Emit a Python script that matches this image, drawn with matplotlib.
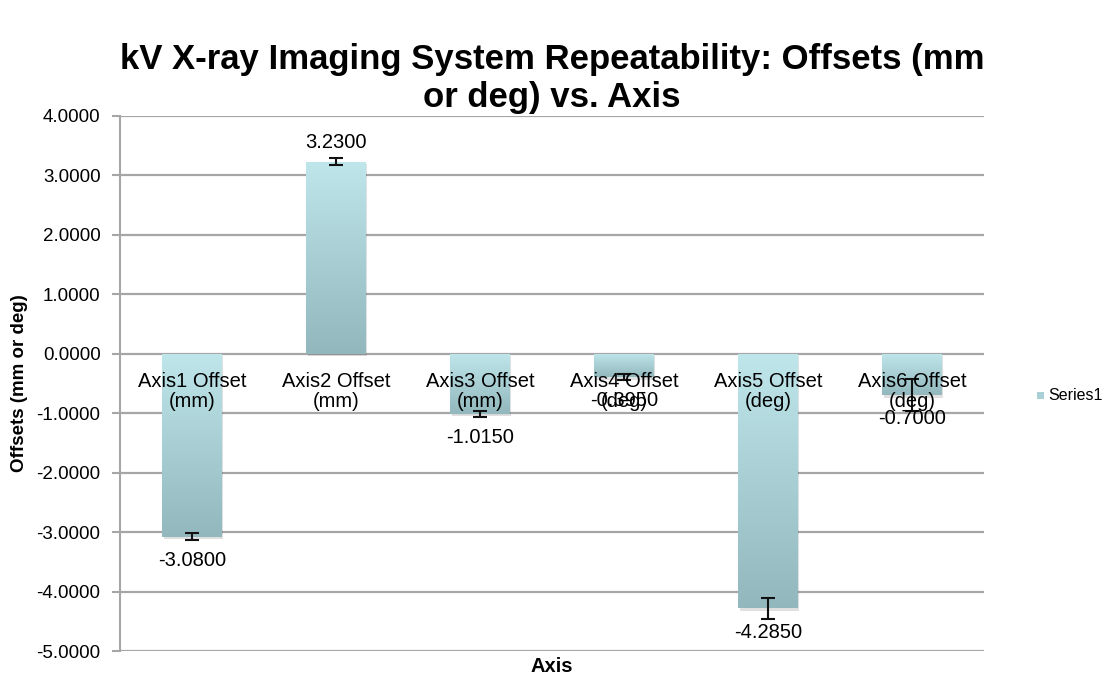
import numpy as np
import matplotlib
matplotlib.use("Agg")
from matplotlib import pyplot as plt
from matplotlib.colors import LinearSegmentedColormap

plt.rcParams['font.family'] = ['Liberation Sans', 'DejaVu Sans']

# offsets per axis with the repeatability spread
axis_names = ["Axis1 Offset\n(mm)", "Axis2 Offset\n(mm)", "Axis3 Offset\n(mm)",
              "Axis4 Offset\n(deg)", "Axis5 Offset\n(deg)", "Axis6 Offset\n(deg)"]
offsets = [-3.080, 3.230, -1.015, -0.395, -4.285, -0.700]
spread = [0.06, 0.06, 0.05, 0.05, 0.18, 0.27]
yticks = np.arange(-5, 5, 1.0)

fig = plt.figure(figsize=(11.04, 6.77), dpi=100)
ax = fig.add_axes([0.1087, 0.0384, 0.7826, 0.7903])

x = np.arange(len(offsets))
width = 0.41
bars = ax.bar(x, offsets, width=width, color="none", edgecolor="none", zorder=3)

# vertical light-to-dark fill inside each bar, with a soft drop shadow
shade = LinearSegmentedColormap.from_list("shade", ["#bfe6eb", "#92b8bd"])
grad = np.linspace(0, 1, 256).reshape(-1, 1)
for b in bars:
    x0 = b.get_x()
    y_lo = min(0, b.get_height())
    y_hi = max(0, b.get_height())
    shadow = plt.Rectangle((x0 + 0.012, y_lo - 0.04), b.get_width(), y_hi - y_lo,
                           facecolor="#000000", alpha=0.12, edgecolor="none", zorder=2)
    ax.add_patch(shadow)
    im = ax.imshow(grad, cmap=shade, aspect="auto", zorder=3,
                   extent=(x0, x0 + b.get_width(), y_lo, y_hi), origin="upper")
    im.set_clip_path(b)

ax.errorbar(x, offsets, yerr=spread, fmt="none", ecolor="#111111",
            elinewidth=1.5, capsize=5, capthick=1.5, zorder=5)

for i, v in enumerate(offsets):
    if v >= 0:
        ax.annotate("%.4f" % v, (i, v), xytext=(0, 14), textcoords="offset points",
                    ha="center", va="center", fontsize=14.5, zorder=6)
    else:
        ax.annotate("%.4f" % v, (i, v), xytext=(0, -17), textcoords="offset points",
                    ha="center", va="center", fontsize=14.5, zorder=6)
    ax.annotate(axis_names[i], (i, 0), xytext=(0, -27), textcoords="offset points",
                ha="center", va="center", fontsize=14.5, linespacing=1.05, zorder=6)

ax.set_xlim(-0.5, len(offsets) - 0.5)
ax.set_ylim(-5, 4)
ax.set_yticks(yticks)
ax.set_yticklabels(["%.4f" % t for t in yticks], fontsize=13.5)
ax.set_xticks([])
ax.yaxis.grid(True, color="#a6a6a6", linewidth=1.6)
ax.set_axisbelow(True)
for s in ["top", "right", "bottom"]:
    ax.spines[s].set_visible(False)
ax.spines["left"].set_color("#a6a6a6")
ax.spines["left"].set_linewidth(1.5)
ax.tick_params(axis="y", colors="#a6a6a6", labelcolor="black", length=6, width=1.5, pad=8)

ax.set_ylabel("Offsets (mm or deg)", fontsize=13.5, fontweight="bold", labelpad=6)
ax.set_xlabel("Axis", fontsize=14.5, fontweight="bold", labelpad=4)

fig.text(0.5, 0.884, "kV X-ray Imaging System Repeatability: Offsets (mm\nor deg) vs. Axis",
         ha="center", va="center", fontsize=25, fontweight="bold", linespacing=1.2)

# legend key on the right
fig.patches.append(plt.Rectangle((0.9395, 0.410), 0.0065, 0.0106, transform=fig.transFigure,
                                 facecolor="#a8d0d5", edgecolor="none"))
fig.text(0.9495, 0.416, "Series1", ha="left", va="center", fontsize=11.5)

fig.savefig("out.png", dpi=100)
